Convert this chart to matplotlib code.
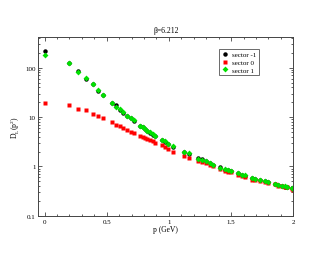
import numpy as np
import matplotlib.pyplot as plt
from matplotlib.ticker import MultipleLocator, LogLocator, NullFormatter

plt.rcParams['font.family'] = ['Liberation Serif', 'DejaVu Serif']

# momenta (GeV)
p_hi = [0.0, 0.193, 0.273, 0.335, 0.386, 0.429, 0.474, 0.546, 0.576, 0.608,
        0.634, 0.667, 0.694, 0.723, 0.769, 0.790, 0.809, 0.827, 0.849, 0.871,
        0.889, 0.943, 0.969, 0.996, 1.036, 1.125, 1.162, 1.237, 1.269, 1.296,
        1.331, 1.357, 1.411, 1.451, 1.478, 1.497, 1.558, 1.585, 1.612, 1.666,
        1.692, 1.733, 1.773, 1.800, 1.853, 1.880, 1.912, 1.933, 1.952, 1.987,
        2.000]

# sector 1 (green)
d_s1 = [179, 127, 83, 63, 47, 35.5, 28.5, 19.6, 16.2, 14.3,
        12.4, 10.5, 9.5, 8.7, 6.6, 6.2, 5.7, 5.25, 4.9, 4.5,
        4.2, 3.45, 3.2, 2.9, 2.54, 1.92, 1.83, 1.43, 1.36, 1.28,
        1.15, 1.08, 0.94, 0.87, 0.84, 0.81, 0.72, 0.68, 0.66, 0.57,
        0.56, 0.53, 0.50, 0.48, 0.44, 0.42, 0.41, 0.40, 0.38, 0.36,
        0.35]

# sector -1 (black)
d_sm1 = [213, 127, 86, 60, 47, 34.5, 28, 19.4, 17.3, 14.0,
         12.1, 10.3, 9.4, 8.5, 6.6, 6.2, 5.6, 5.2, 4.8, 4.4,
         4.1, 3.4, 3.1, 2.8, 2.5, 1.95, 1.80, 1.45, 1.38, 1.31,
         1.15, 1.08, 0.95, 0.86, 0.84, 0.80, 0.72, 0.67, 0.65, 0.57,
         0.55, 0.53, 0.50, 0.48, 0.44, 0.42, 0.41, 0.39, 0.38, 0.36,
         0.35]

# sector 0 (red)
p_s0 = [0.0, 0.193, 0.273, 0.335, 0.386, 0.429, 0.474, 0.546, 0.576, 0.608,
        0.634, 0.667, 0.694, 0.723, 0.769, 0.790, 0.809, 0.827, 0.849, 0.871,
        0.889, 0.943, 0.969, 0.996, 1.036, 1.125, 1.162, 1.237, 1.269, 1.296,
        1.331, 1.357, 1.411, 1.451, 1.478, 1.497, 1.558, 1.585, 1.612, 1.666,
        1.692, 1.733, 1.773, 1.800, 1.853, 1.880, 1.912, 1.933, 1.952, 1.987,
        2.000]
d_s0 = [19.5, 17.7, 14.9, 13.8, 11.8, 10.4, 9.4, 8.0, 6.95, 6.45,
        5.96, 5.4, 5.0, 4.65, 4.05, 3.86, 3.69, 3.57, 3.4, 3.2,
        3.0, 2.7, 2.5, 2.24, 2.0, 1.64, 1.47, 1.26, 1.2, 1.15,
        1.06, 1.0, 0.88, 0.80, 0.78, 0.77, 0.68, 0.65, 0.62, 0.54,
        0.53, 0.51, 0.49, 0.47, 0.43, 0.41, 0.40, 0.39, 0.38, 0.35,
        0.34]

fig = plt.figure(figsize=(3.3, 2.55), dpi=100)
ax = fig.add_axes([0.116, 0.150, 0.773, 0.700])

ax.plot(p_hi, d_sm1, 'o', color='black', ms=3.2, mec='none', label='sector -1')
ax.plot(p_s0, d_s0, 's', color='#ff0000', ms=3.0, mec='none', label='sector 0')
ax.plot(p_hi, d_s1, 'D', color='#00e000', ms=3.0, mec='none', label='sector 1')

ax.set_yscale('log')
ax.set_xlim(-0.05, 2.0)
ax.set_ylim(0.1, 414)

ax.xaxis.set_major_locator(MultipleLocator(0.5))
ax.xaxis.set_minor_locator(MultipleLocator(0.1))
ax.yaxis.set_major_locator(LogLocator(base=10, numticks=10))
ax.yaxis.set_minor_locator(LogLocator(base=10, subs=np.arange(2, 10), numticks=20))
ax.yaxis.set_minor_formatter(NullFormatter())
ax.set_xticks([0, 0.5, 1, 1.5, 2])
ax.set_xticklabels(['0', '0.5', '1', '1.5', '2'])
ax.set_yticks([0.1, 1, 10, 100])
ax.set_yticklabels(['0.1', '1', '10', '100'])

ax.tick_params(which='both', direction='in', top=True, right=True,
               labelsize=5, color='#444444', width=0.6, pad=2)
ax.tick_params(which='major', length=3)
ax.tick_params(which='minor', length=1.6)
for s in ax.spines.values():
    s.set_color('#444444')
    s.set_linewidth(0.7)

ax.set_title('β=6.212', fontsize=5.5, pad=4)
ax.set_xlabel('p (GeV)', fontsize=5.5, labelpad=1)
ax.set_ylabel('D$_\\mathregular{L}$(p$^\\mathregular{2}$)', fontsize=5.5, labelpad=2)

leg = ax.legend(loc='upper right', bbox_to_anchor=(0.865, 0.935), fontsize=5,
                frameon=True, fancybox=False, edgecolor='#444444',
                handlelength=0.8, handletextpad=0.6, borderpad=0.4,
                labelspacing=0.25, borderaxespad=0)
leg.get_frame().set_linewidth(0.7)

fig.savefig('out.png', dpi=100)
